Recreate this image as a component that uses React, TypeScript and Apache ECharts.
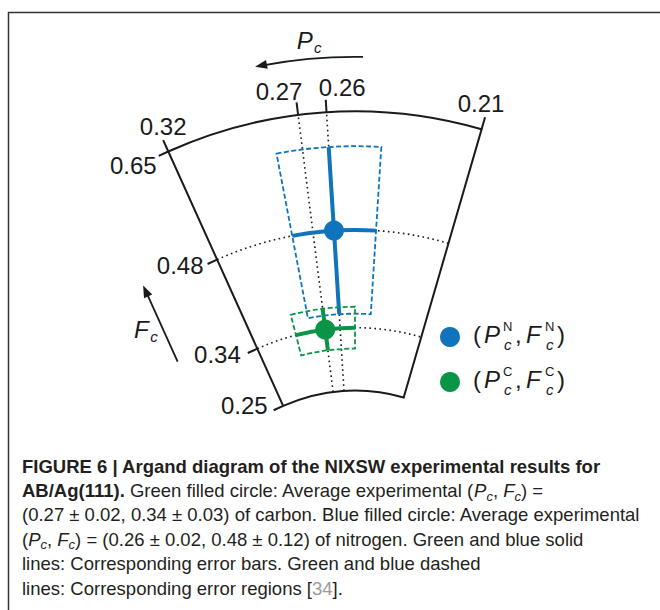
import React, { useEffect, useRef } from 'react';
import * as echarts from 'echarts';

// ---------------- data ----------------
const categories = ['N', 'C']; // nitrogen, carbon (legend superscripts)
const elementNames = ['nitrogen', 'carbon'];
const pcValues = [0.26, 0.27]; // coherent position P_c
const pcErrors = [0.02, 0.02];
const fcValues = [0.48, 0.34]; // coherent fraction F_c
const fcErrors = [0.12, 0.03];

// ticks of the Argand sector (positions where they sit in the figure, and their labels)
const pcTickValues = [0.3175, 0.27, 0.26, 0.205];
const pcTickLabels = ['0.32', '0.27', '0.26', '0.21'];
const fcTickValues = [0.65, 0.48, 0.34, 0.25];
const fcTickLabels = ['0.65', '0.48', '0.34', '0.25'];
const pcGuides = [0.27, 0.26]; // dotted radial guide lines
const fcGuides = [0.48, 0.34]; // dotted arc guide lines
const pcFrame = [0.205, 0.3175];
const fcFrame = [0.25, 0.65];
const pcArrow = [0.2475, 0.2815]; // P_c arrow: tail -> head
const pcArrowAt = 0.728; // F_c radius where the P_c arrow runs
const fcArrow = [0.37, 0.49]; // F_c arrow: tail -> head

// ---------------- layout / style ----------------
const CENTER = [355, 565];
const PX_PER_UNIT = 698;
const R_MAX = 0.75;
const BLUE = '#0f74bb';
const GREEN = '#0a9446';
const colors = [BLUE, GREEN];
const INK = '#1a1a1a';
const LABEL_FONT = '"Liberation Sans", Arial, Helvetica, sans-serif';
const CAPTION_FONT = '"Liberation Sans", Arial, Helvetica, sans-serif';
const pcLabelOffsets = [
  [0, -14],
  [-17.5, -10.5],
  [16.5, -12],
  [-4, -13.5],
];
const fcLabelOffsets = [
  [-2, 10],
  [-4, 2],
  [-7, 1],
  [-6, -4.5],
];

function helpers(api: any) {
  const O = api.coord([0, 0]);
  const rad = (f: number) => {
    const q = api.coord([f, 0.25]);
    return Math.hypot(q[0] - O[0], q[1] - O[1]);
  };
  const ang = (p: number) => {
    const q = api.coord([0.5, p]);
    return Math.atan2(q[1] - O[1], q[0] - O[0]);
  };
  const at = (r: number, a: number) => [O[0] + r * Math.cos(a), O[1] + r * Math.sin(a)];
  return { O, rad, ang, at };
}

function seg(s: number[], e: number[], style: any) {
  return { type: 'line', shape: { x1: s[0], y1: s[1], x2: e[0], y2: e[1] }, style: { fill: 'none', ...style } };
}

function label(text: string, x: number, y: number, size: number, extra: any = {}) {
  return {
    type: 'text',
    style: {
      text,
      x,
      y,
      fontSize: size,
      fontFamily: LABEL_FONT,
      fill: INK,
      align: 'center',
      verticalAlign: 'middle',
      ...extra,
    },
  };
}

function renderFrame(params: any, api: any) {
  const { O, rad, ang, at } = helpers(api);
  const aL = ang(pcFrame[1]);
  const aR = ang(pcFrame[0]);
  const rIn = rad(fcFrame[0]);
  const rOut = rad(fcFrame[1]);
  const children: any[] = [];
  const dotted = { stroke: INK, lineWidth: 1.6, lineDash: [1.6, 3.4] };
  pcGuides.forEach((p) => {
    const a = ang(p);
    children.push(seg(at(rIn, a), at(rOut, a), dotted));
  });
  fcGuides.forEach((f) => {
    children.push({
      type: 'arc',
      shape: { cx: O[0], cy: O[1], r: rad(f), startAngle: aL, endAngle: aR, clockwise: true },
      style: { fill: 'none', ...dotted },
    });
  });
  children.push({
    type: 'sector',
    shape: { cx: O[0], cy: O[1], r0: rIn, r: rOut, startAngle: aL, endAngle: aR, clockwise: true },
    style: { fill: 'none', stroke: INK, lineWidth: 2 },
  });
  pcTickValues.forEach((p, i) => {
    const a = ang(p);
    const e = at(rOut + 12.5, a);
    children.push(seg(at(rOut, a), e, { stroke: INK, lineWidth: 2 }));
    const o = pcLabelOffsets[i];
    children.push(label(pcTickLabels[i], e[0] + o[0], e[1] + o[1], 24));
  });
  const tx = Math.sin(aL);
  const ty = -Math.cos(aL);
  fcTickValues.forEach((f, i) => {
    const s = at(rad(f), aL);
    const e = [s[0] + 10.5 * tx, s[1] + 10.5 * ty];
    children.push(seg(s, e, { stroke: INK, lineWidth: 2 }));
    const o = fcLabelOffsets[i];
    children.push(label(fcTickLabels[i], e[0] + o[0], e[1] + o[1], 24, { align: 'right' }));
  });
  return { type: 'group', children };
}

function renderErrors(params: any, api: any) {
  const { O, rad, ang, at } = helpers(api);
  const i = params.dataIndex;
  const c = colors[i];
  const f = api.value(0);
  const p = api.value(1);
  const fe = api.value(2);
  const pe = api.value(3);
  const aHi = ang(p + pe);
  const aLo = ang(p - pe);
  const a = ang(p);
  return {
    type: 'group',
    children: [
      {
        type: 'sector',
        shape: { cx: O[0], cy: O[1], r0: rad(f - fe), r: rad(f + fe), startAngle: aHi, endAngle: aLo, clockwise: true },
        style: { fill: 'none', stroke: c, lineWidth: 1.8, lineDash: [5, 2.5] },
      },
      seg(at(rad(f - fe), a), at(rad(f + fe), a), { stroke: c, lineWidth: 4 }),
      {
        type: 'arc',
        shape: { cx: O[0], cy: O[1], r: rad(f), startAngle: aHi, endAngle: aLo, clockwise: true },
        style: { fill: 'none', stroke: c, lineWidth: 4 },
      },
    ],
  };
}

function arrowHead(tip: number[], d: number[], len: number, half: number) {
  const b = [tip[0] - len * d[0], tip[1] - len * d[1]];
  const n = [-d[1], d[0]];
  return {
    type: 'polygon',
    shape: {
      points: [tip, [b[0] + half * n[0], b[1] + half * n[1]], [b[0] - half * n[0], b[1] - half * n[1]]],
    },
    style: { fill: INK, stroke: 'none' },
  };
}

function renderAnnotations(params: any, api: any) {
  const { O, rad, ang, at } = helpers(api);
  const children: any[] = [];
  // P_c arrow (arc, counter-clockwise = increasing P_c)
  const r = rad(pcArrowAt);
  const aHead = ang(pcArrow[1]);
  const aTail = ang(pcArrow[0]);
  children.push({
    type: 'arc',
    shape: { cx: O[0], cy: O[1], r, startAngle: aHead + 8 / r, endAngle: aTail, clockwise: true },
    style: { fill: 'none', stroke: INK, lineWidth: 1.8 },
  });
  const tipP = at(r, aHead);
  children.push(arrowHead(tipP, [Math.sin(aHead), -Math.cos(aHead)], 12, 4.5));
  const mid = at(r, (aHead + aTail) / 2);
  children.push(label('P', mid[0] - 4, mid[1] - 18.5, 24, { fontStyle: 'italic' }));
  children.push(label('c', mid[0] + 9, mid[1] - 11, 15, { fontStyle: 'italic' }));

  // F_c arrow, parallel to the P_c = max edge
  const aL = ang(pcFrame[1]);
  const u = [Math.cos(aL), Math.sin(aL)];
  const n = [Math.sin(aL) * 78, -Math.cos(aL) * 78];
  const t0 = at(rad(fcArrow[0]), aL);
  const t1 = at(rad(fcArrow[1]), aL);
  const tail = [t0[0] + n[0], t0[1] + n[1]];
  const head = [t1[0] + n[0], t1[1] + n[1]];
  children.push(seg(tail, [head[0] - 8 * u[0], head[1] - 8 * u[1]], { stroke: INK, lineWidth: 1.8 }));
  children.push(arrowHead(head, u, 12, 4.5));
  const m2 = [(tail[0] + head[0]) / 2, (tail[1] + head[1]) / 2];
  children.push(label('F', m2[0] - 19, m2[1] + 5.5, 24, { fontStyle: 'italic' }));
  children.push(label('c', m2[0] - 6.5, m2[1] + 13, 15, { fontStyle: 'italic' }));
  return { type: 'group', children };
}

function legendGraphics() {
  const items: any[] = [];
  const t = (text: string, x: number, y: number, size: number, italic = false) => ({
    type: 'text',
    style: {
      text,
      x,
      y,
      fontSize: size,
      fontFamily: LABEL_FONT,
      fontStyle: italic ? 'italic' : 'normal',
      fill: INK,
      align: 'left',
      verticalAlign: 'middle',
    },
  });
  categories.forEach((cat, i) => {
    const y0 = 334 + i * 45;
    items.push({ type: 'circle', shape: { cx: 450, cy: y0 + 3, r: 10 }, style: { fill: colors[i] } });
    items.push(t('(', 473, y0, 24));
    items.push(t('P', 484, y0, 24, true));
    items.push(t(cat, 503, y0 - 8, 13));
    items.push(t('c', 504, y0 + 10.5, 15, true));
    items.push(t(',', 515, y0, 24));
    items.push(t('F', 526, y0, 24, true));
    items.push(t(cat, 545, y0 - 8, 13));
    items.push(t('c', 546, y0 + 10.5, 15, true));
    items.push(t(')', 557, y0, 24));
  });
  return items;
}

const fmt = (v: number) => v.toFixed(2);
const captionText = [
  '{b|FIGURE 6 | Argand diagram of the NIXSW experimental results for}',
  '{b|AB/Ag(111). }{r|Green filled circle: Average experimental (}{i|P}{s|c}{r|, }{i|F}{s|c}{r|) =}',
  `{r|(${fmt(pcValues[1])} ± ${fmt(pcErrors[1])}, ${fmt(fcValues[1])} ± ${fmt(fcErrors[1])}) of ${elementNames[1]}. Blue filled circle: Average experimental}`,
  `{r|(}{i|P}{s|c}{r|, }{i|F}{s|c}{r|) = (${fmt(pcValues[0])} ± ${fmt(pcErrors[0])}, ${fmt(fcValues[0])} ± ${fmt(fcErrors[0])}) of ${elementNames[0]}. Green and blue solid}`,
  '{r|lines: Corresponding error bars. Green and blue dashed}',
  '{r|lines: Corresponding error regions [}{g|34}{r|].}',
].join('\n');

const CAP_SIZE = 18.5;
const CAP_LH = 24.4;
const capBase = { fontFamily: CAPTION_FONT, fontSize: CAP_SIZE, lineHeight: CAP_LH, fill: '#231f20' };

const option: any = {
  animation: false,
  backgroundColor: '#ffffff',
  polar: { center: CENTER, radius: [0, PX_PER_UNIT * R_MAX] },
  radiusAxis: { type: 'value', min: 0, max: R_MAX, show: false },
  angleAxis: { type: 'value', min: 0, max: 1, startAngle: 0, clockwise: false, show: false },
  series: [
    {
      type: 'custom',
      name: 'frame',
      coordinateSystem: 'polar',
      clip: false,
      silent: true,
      z: 1,
      encode: { radius: 0, angle: 1 },
      data: [[fcFrame[1], pcFrame[1]]],
      renderItem: renderFrame,
    },
    {
      type: 'custom',
      name: 'errors',
      coordinateSystem: 'polar',
      clip: false,
      silent: true,
      z: 2,
      encode: { radius: 0, angle: 1 },
      data: categories.map((c, i) => [fcValues[i], pcValues[i], fcErrors[i], pcErrors[i]]),
      renderItem: renderErrors,
    },
    ...categories.map((c, i) => ({
      type: 'scatter',
      name: elementNames[i],
      coordinateSystem: 'polar',
      symbol: 'circle',
      symbolSize: 20,
      z: 5,
      silent: true,
      itemStyle: { color: colors[i], opacity: 1 },
      data: [[fcValues[i], pcValues[i]]],
    })),
    {
      type: 'custom',
      name: 'annotations',
      coordinateSystem: 'polar',
      clip: false,
      silent: true,
      z: 3,
      encode: { radius: 0, angle: 1 },
      data: [[pcArrowAt, pcArrow[1]]],
      renderItem: renderAnnotations,
    },
  ],
  graphic: [
    {
      type: 'polyline',
      silent: true,
      shape: { points: [[8.5, 610], [8.5, 12.5], [660, 12.5]] },
      style: { fill: 'none', stroke: '#333333', lineWidth: 1.5 },
    },
    { type: 'group', silent: true, children: legendGraphics() },
    {
      type: 'text',
      silent: true,
      style: {
        x: 22,
        y: 453.8,
        text: captionText,
        ...capBase,
        verticalAlign: 'top',
        align: 'left',
        rich: {
          b: { ...capBase, fontWeight: 'bold' },
          r: { ...capBase },
          i: { ...capBase, fontStyle: 'italic' },
          s: { ...capBase, fontSize: 13, fontStyle: 'italic', lineHeight: 14, verticalAlign: 'bottom' },
          g: { ...capBase, fill: '#9a9a9a' },
        },
      },
    },
  ],
};

export default function App() {
  const ref = useRef<HTMLDivElement>(null);
  useEffect(() => {
    const chart = echarts.init(ref.current as HTMLDivElement, null, { renderer: 'svg' });
    chart.setOption(option);
    return () => chart.dispose();
  }, []);
  return (
    <div
      ref={ref}
      style={{ position: 'absolute', left: 0, top: 0, width: 660, height: 610, background: '#ffffff' }}
    />
  );
}
